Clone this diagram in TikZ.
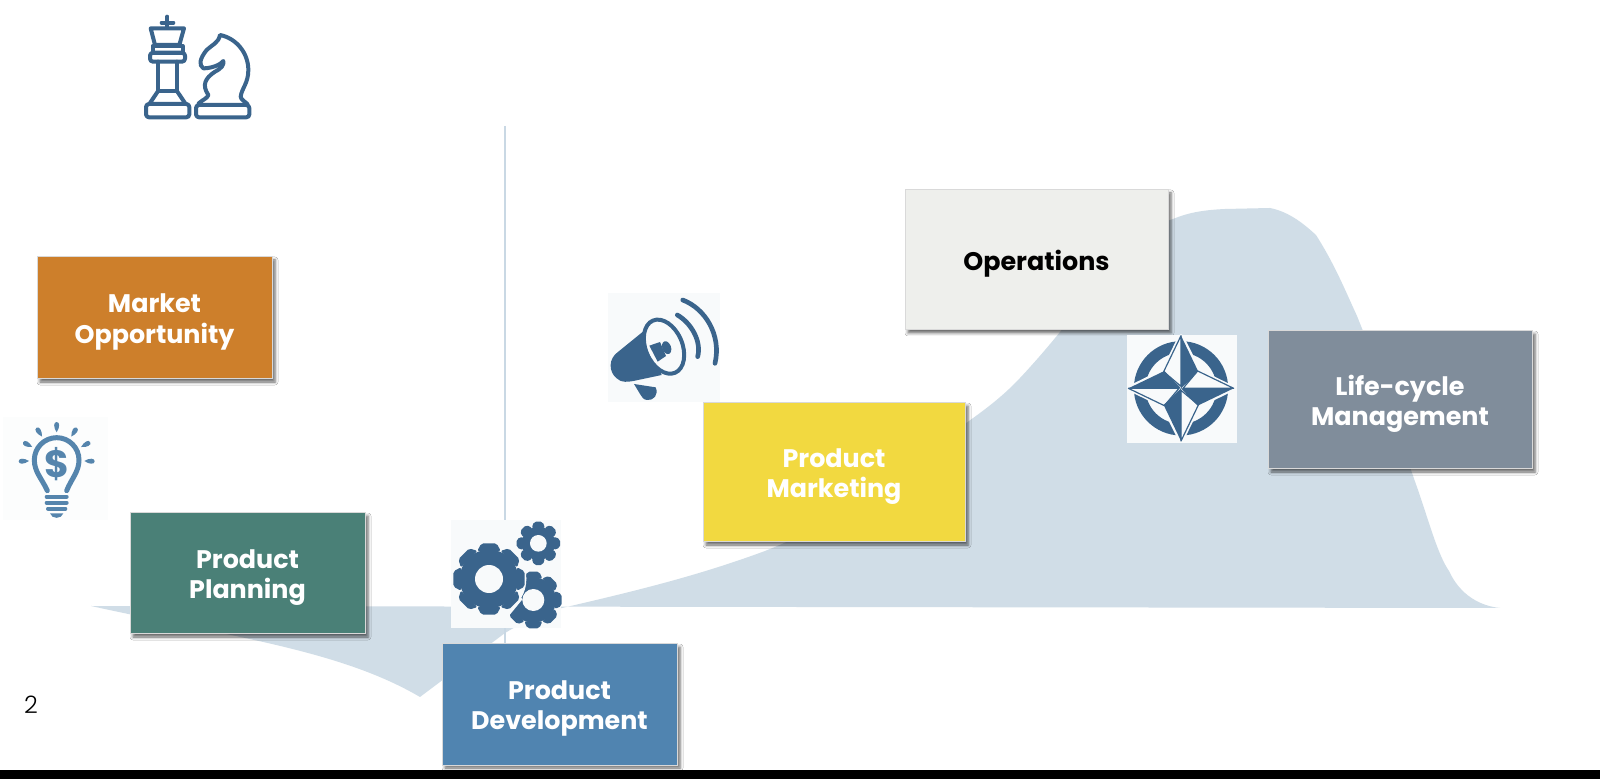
\documentclass[tikz,border=0pt]{standalone}
\usepackage{fontspec}
\setmainfont{Poppins}
\newfontfamily\pagefont{Poppins Light}
\usetikzlibrary{shadows,shadows.blur}

\definecolor{humpblue}{HTML}{D0DDE7}
\definecolor{rulecolor}{HTML}{C9D8E4}
\definecolor{iconblue}{HTML}{3A648C}
\definecolor{bulbblue}{HTML}{5585AD}
\definecolor{iconback}{HTML}{F8FAFB}
\definecolor{bulbback}{HTML}{FCFDFD}
\definecolor{marketcol}{HTML}{CD7F2B}
\definecolor{planningcol}{HTML}{4A8077}
\definecolor{developcol}{HTML}{5084B0}
\definecolor{marketingcol}{HTML}{F2D940}
\definecolor{operationscol}{HTML}{EEEFEC}
\definecolor{lifecyclecol}{HTML}{808D9B}

\tikzset{
    stagebox/.style={rectangle, draw=white!85!black, line width=0.5pt,
        blur shadow={shadow xshift=1.5pt, shadow yshift=-1.5pt, shadow blur radius=1.5pt, shadow opacity=60}},
    stagetext/.style={text=white, align=center, inner sep=0pt, yshift=-2pt,
        font=\bfseries\fontsize{12.7}{15.3}\selectfont},
    iconpart/.style={x=0.16667pt, y=-0.16667pt}
}

% centre, root radius, outer radius, hole radius
\newcommand{\drawgear}[4]{
    \fill[iconblue] #1 circle[radius=#2];
    \foreach \t in {0,45,...,315}
        \fill[iconblue, shift={#1}, rotate=\t, rounded corners=1pt] ({#2-4},{-0.4*#2}) -- (#3,{-0.26*#2}) -- (#3,{0.26*#2}) -- ({#2-4},{0.4*#2}) -- cycle;
    \fill[iconback] #1 circle[radius=#4];
}

\begin{document}
\begin{tikzpicture}[x=0.5pt, y=-0.5pt]
    \useasboundingbox (0,0) rectangle (1600,779);
    \fill[white] (0,0) rectangle (1600,779);

    % life-cycle curve and the rule
    \fill[humpblue] (91,606) .. controls (232,637) and (340,650) .. (420,697)
        -- (505,633) .. controls (530,618) and (545,612) .. (562,608)
        .. controls (640,590) and (700,575) .. (765,551)
        .. controls (830,525) and (880,495) .. (918,459)
        .. controls (960,425) and (990,410) .. (1020,378)
        .. controls (1065,330) and (1095,285) .. (1122,255)
        .. controls (1140,235) and (1155,225) .. (1173,219)
        .. controls (1190,212) and (1205,210) .. (1225,209)
        -- (1270,208) .. controls (1290,212) and (1305,225) .. (1316,235)
        .. controls (1335,265) and (1345,290) .. (1357,316)
        .. controls (1385,385) and (1400,440) .. (1418,490)
        .. controls (1430,525) and (1438,555) .. (1449,571)
        .. controls (1460,595) and (1480,606) .. (1500,608) -- cycle;
    \draw[rulecolor, line width=1pt] (505,126) -- (505,644);
    \fill[black] (0,770) rectangle (1600,779);

    % stages
    \node[stagebox, fill=marketcol, minimum width=117.5pt, minimum height=61pt,
        label={[stagetext]center:Market\\Opportunity}] (market) at (154.5,318) {};
    \node[stagebox, fill=planningcol, minimum width=117.5pt, minimum height=60.5pt,
        label={[stagetext]center:Product\\Planning}] (planning) at (247.5,573.5) {};
    \node[stagebox, fill=developcol, minimum width=117.5pt, minimum height=60.5pt,
        label={[stagetext]center:Product\\Development}] (develop) at (559.5,704.5) {};
    \node[stagebox, fill=marketingcol, minimum width=131pt, minimum height=69.5pt,
        label={[stagetext]center:Product\\Marketing}] (marketing) at (834,472.5) {};
    \node[stagebox, fill=operationscol, minimum width=131.5pt, minimum height=70pt,
        label={[stagetext, text=black]center:Operations}] (operations) at (1036.5,260) {};
    \node[stagebox, fill=lifecyclecol, minimum width=132pt, minimum height=69pt,
        label={[stagetext]center:Life-cycle\\Management}] (lifecycle) at (1400,400) {};

    \node[font=\pagefont\fontsize{12}{14}\selectfont, text=black] (pagenum) at (31,705) {2};

    % chess pieces
    \begin{scope}[shift={(120,0)}, iconpart, iconblue, line width=2pt, line join=round, line cap=round]
        \draw (142,50) -- (142,80) (125,68) -- (160,68);
        \draw (92,85) -- (192,85) -- (178,135) -- (105,135) -- cycle;
        \draw (98,138) rectangle (188,158);
        \draw[rounded corners=1.5pt] (90,158) rectangle (195,185);
        \draw (115,185) -- (115,272) -- (170,272) -- (170,185);
        \draw (115,272) -- (88,312) (170,272) -- (197,312);
        \draw[rounded corners=1.5pt] (78,312) rectangle (208,352);
        \draw[rounded corners=1.5pt] (228,315) rectangle (388,352);
        \draw (236,310) .. controls (250,298) and (262,295) .. (265,285)
            .. controls (245,255) and (255,235) .. (285,215)
            .. controls (305,205) and (312,195) .. (310,183)
            .. controls (295,200) and (265,205) .. (250,205)
            .. controls (235,195) and (240,175) .. (260,150)
            .. controls (275,135) and (295,130) .. (300,105)
            .. controls (350,115) and (385,160) .. (385,210)
            .. controls (385,250) and (365,265) .. (362,290)
            .. controls (362,298) and (375,305) .. (382,312);
    \end{scope}

    % idea
    \begin{scope}[shift={(0,400)}, iconpart]
        \fill[bulbback] (10,50) rectangle (325,360);
        \foreach \a in {-92,-62,-32,0,32,62,92}
            \fill[bulbblue, rotate around={\a:(170,180)}] (170,97) .. controls (160,82) and (160,66) .. (170,66) .. controls (180,66) and (180,82) .. (170,97) -- cycle;
        \draw[bulbblue, line width=2.5pt, line cap=round] (142,272) .. controls (125,235) and (103,215) .. (103,180)
            arc[start angle=180, end angle=360, radius=67]
            .. controls (237,215) and (215,235) .. (200,272);
        \node[text=bulbblue, font=\bfseries\fontsize{19}{19}\selectfont, inner sep=0pt] (dollar) at (170,192) {\$};
        \foreach \ypos/\half in {290/30,308/30,326/26}
            \draw[bulbblue, line width=2pt, line cap=round] ({170-\half},\ypos) -- ({170+\half},\ypos);
        \fill[bulbblue] (150,340) -- (190,340) .. controls (185,358) and (155,358) .. (150,340) -- cycle;
    \end{scope}

    % gears
    \fill[iconback] (451,520) rectangle (561,628);
    \begin{scope}[shift={(430,500)}, iconpart]
        \drawgear{(325,130)}{50}{65}{25}
        \drawgear{(310,300)}{68}{85}{33}
        \fill[iconback] (177,237) circle[radius=112];
        \draw[iconback, line width=1.2pt] (275,295) -- (230,350);
        \drawgear{(177,237)}{88}{107}{42}
    \end{scope}

    % megaphone
    \fill[iconback] (608,293) rectangle (720,402);
    \begin{scope}[shift={(590,280)}, iconpart]
        \draw[iconblue, line width=2.33pt, line cap=round] (278,60) .. controls (345,85) and (395,165) .. (375,250);
        \draw[iconblue, line width=2.33pt, line cap=round] (262,105) .. controls (305,130) and (335,185) .. (323,230);
        \fill[iconblue] (165,150) -- (85,215) .. controls (55,235) and (55,275) .. (80,295)
            .. controls (95,310) and (115,305) .. (130,303) -- (215,285) -- cycle;
        \fill[iconblue] (132,312) -- (197,322) .. controls (207,345) and (190,362) .. (172,360)
            .. controls (160,360) and (155,350) .. (150,342) -- cycle;
        \draw[iconblue, fill=iconback, line width=2pt, rotate around={-67:(222,200)}] (222,200) ellipse[x radius=85, y radius=55];
        \fill[iconblue] (178,197) -- (210,186) -- (228,228) -- (203,245) -- cycle;
        \fill[iconblue, rotate around={20:(230,203)}] (230,203) ellipse[x radius=13, y radius=20];
    \end{scope}

    % compass
    \fill[iconback] (1127,335) rectangle (1237,443);
    \begin{scope}[shift={(1095,320)}, iconpart]
        \draw[iconblue, line width=5.8pt] (258,205) circle[radius=124];
        \draw[iconback, fill=iconback, line width=2.6pt, line join=round] (258,50) -- (310,155) -- (413,205) -- (310,255) -- (258,360) -- (206,255) -- (103,205) -- (206,155) -- cycle;
        \foreach \r in {0,90,180,270} {
            \draw[iconblue, fill=iconback, line width=0.6pt, line join=round, shift={(258,205)}, rotate=\r] (0,-158) -- (-52,-50) -- (0,-6) -- cycle;
            \fill[iconblue, shift={(258,205)}, rotate=\r] (0,-158) -- (52,-50) -- (0,0) -- cycle;
        }
    \end{scope}
\end{tikzpicture}
\end{document}
